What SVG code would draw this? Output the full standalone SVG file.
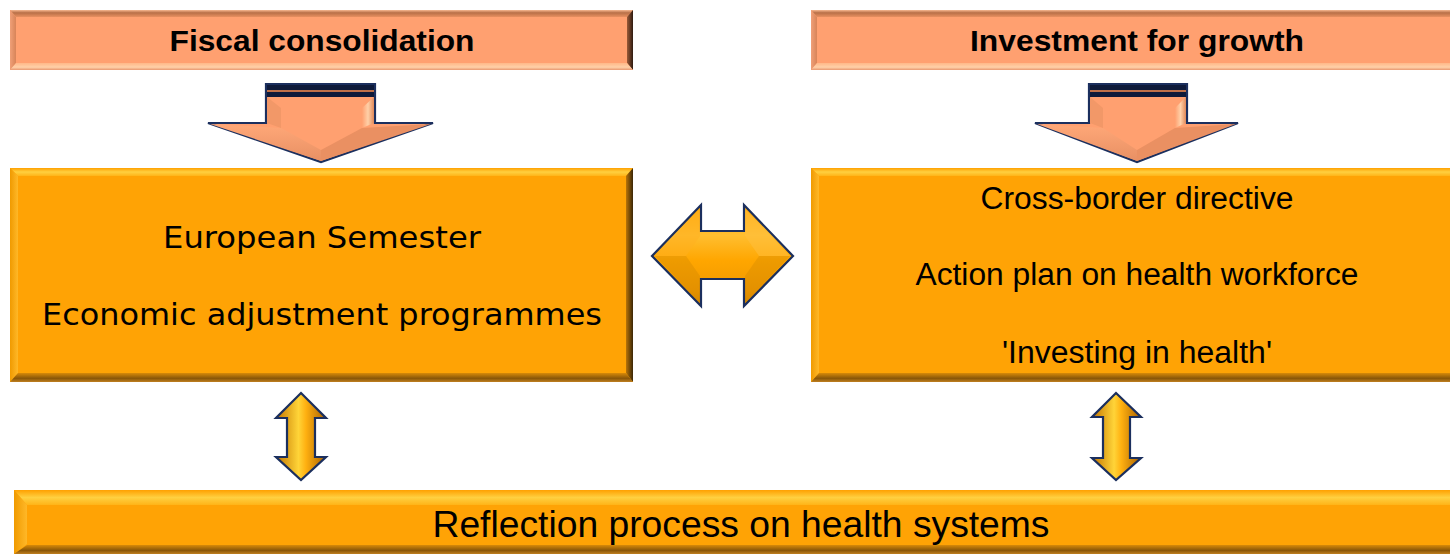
<svg xmlns="http://www.w3.org/2000/svg" width="1450" height="554" viewBox="0 0 1450 554">
<style>
.hdr{font-family:"Liberation Sans",Arial,sans-serif;font-weight:bold;font-size:30px;fill:#000;text-anchor:middle}
.vt{font-family:"DejaVu Sans",Verdana,sans-serif;font-size:31px;fill:#000;text-anchor:middle}
.ar{font-family:"Liberation Sans",Arial,sans-serif;font-size:31px;fill:#000;text-anchor:middle}
.big{font-family:"Liberation Sans",Arial,sans-serif;font-size:36px;fill:#000;text-anchor:middle}
.arrowline{stroke:#1B2F5E;stroke-width:2.2;stroke-linejoin:miter}
</style>
<defs>
<linearGradient id="sTop" x1="0" y1="0" x2="0" y2="1"><stop offset="0" stop-color="#F8B890"/><stop offset="0.4" stop-color="#B87048"/><stop offset="1" stop-color="#E89060"/></linearGradient>
<linearGradient id="sBot" x1="0" y1="0" x2="0" y2="1"><stop offset="0" stop-color="#FFB888"/><stop offset="0.6" stop-color="#FFD0A8"/><stop offset="1" stop-color="#E89870"/></linearGradient>
<linearGradient id="sLeft" x1="0" y1="0" x2="1" y2="0"><stop offset="0" stop-color="#F0A078"/><stop offset="1" stop-color="#D88458"/></linearGradient>
<linearGradient id="sRight" x1="0" y1="0" x2="1" y2="0"><stop offset="0" stop-color="#9A5A38"/><stop offset="1" stop-color="#2E1A10"/></linearGradient>
<linearGradient id="oTop" x1="0" y1="0" x2="0" y2="1"><stop offset="0" stop-color="#FFA000"/><stop offset="0.5" stop-color="#FFD040"/><stop offset="1" stop-color="#FFB418"/></linearGradient>
<linearGradient id="oBot" x1="0" y1="0" x2="0" y2="1"><stop offset="0" stop-color="#D88A08"/><stop offset="0.6" stop-color="#8A5608"/><stop offset="1" stop-color="#C08020"/></linearGradient>
<linearGradient id="oLeft" x1="0" y1="0" x2="1" y2="0"><stop offset="0" stop-color="#F09A00"/><stop offset="1" stop-color="#FFB828"/></linearGradient>
<linearGradient id="oRight" x1="0" y1="0" x2="1" y2="0"><stop offset="0" stop-color="#B87408"/><stop offset="1" stop-color="#3A2606"/></linearGradient>
<linearGradient id="vArrow" x1="0" y1="0" x2="1" y2="0"><stop offset="0" stop-color="#C27400"/><stop offset="0.45" stop-color="#FFD438"/><stop offset="0.6" stop-color="#FFB010"/><stop offset="1" stop-color="#A86000"/></linearGradient>
<linearGradient id="hArrow" x1="0" y1="0" x2="0" y2="1"><stop offset="0" stop-color="#FFA808"/><stop offset="0.3" stop-color="#FFBE30"/><stop offset="0.55" stop-color="#FFA600"/><stop offset="0.85" stop-color="#F09800"/><stop offset="1" stop-color="#D88800"/></linearGradient>
<linearGradient id="dHead" x1="0" y1="0" x2="0" y2="1"><stop offset="0" stop-color="#FFA878"/><stop offset="1" stop-color="#E89064"/></linearGradient>
<linearGradient id="dShaftR" x1="0" y1="0" x2="1" y2="0"><stop offset="0" stop-color="#FFA070"/><stop offset="0.5" stop-color="#FFD0A8"/><stop offset="1" stop-color="#E08858"/></linearGradient>
</defs>

<rect width="1450" height="554" fill="#FFFFFF"/>

<g id="header-fiscal">
<rect x="10" y="10" width="623" height="60" fill="#FFA070"/>
<polygon points="10,10 633,10 627,17 16,17" fill="url(#sTop)"/>
<polygon points="10,10 16,17 16,63 10,70" fill="url(#sLeft)"/>
<polygon points="633,10 633,70 627,63 627,17" fill="url(#sRight)"/>
<polygon points="10,70 633,70 627,63 16,63" fill="url(#sBot)"/>
<text class="hdr" x="322" y="51" textLength="305" lengthAdjust="spacingAndGlyphs">Fiscal consolidation</text>
</g>

<g id="header-investment">
<rect x="811" y="10" width="650" height="60" fill="#FFA070"/>
<polygon points="811,10 1461,10 1455,17 817,17" fill="url(#sTop)"/>
<polygon points="811,10 817,17 817,63 811,70" fill="url(#sLeft)"/>
<polygon points="811,70 1461,70 1455,63 817,63" fill="url(#sBot)"/>
<text class="hdr" x="1137" y="51" textLength="334" lengthAdjust="spacingAndGlyphs">Investment for growth</text>
</g>

<g id="box-fiscal">
<rect x="10" y="168" width="623" height="214" fill="#FFA305"/>
<polygon points="10,168 633,168 626,176 18,176" fill="url(#oTop)"/>
<polygon points="10,168 18,176 18,373 10,382" fill="url(#oLeft)"/>
<polygon points="633,168 633,382 626,373 626,176" fill="url(#oRight)"/>
<polygon points="10,382 633,382 626,373 18,373" fill="url(#oBot)"/>
<text class="vt" x="322" y="248" textLength="318" lengthAdjust="spacingAndGlyphs">European Semester</text>
<text class="vt" x="322" y="325" textLength="560" lengthAdjust="spacingAndGlyphs">Economic adjustment programmes</text>
</g>

<g id="box-investment">
<rect x="811" y="168" width="650" height="214" fill="#FFA305"/>
<polygon points="811,168 1461,168 1454,176 819,176" fill="url(#oTop)"/>
<polygon points="811,168 819,176 819,373 811,382" fill="url(#oLeft)"/>
<polygon points="811,382 1461,382 1454,373 819,373" fill="url(#oBot)"/>
<text class="ar" x="1137" y="209" textLength="313" lengthAdjust="spacingAndGlyphs">Cross-border directive</text>
<text class="ar" x="1137" y="285" textLength="443" lengthAdjust="spacingAndGlyphs">Action plan on health workforce</text>
<text class="ar" x="1137" y="363" textLength="270" lengthAdjust="spacingAndGlyphs">'Investing in health'</text>
</g>

<g id="box-reflection">
<rect x="14" y="490" width="1450" height="64" fill="#FFA305"/>
<polygon points="14,490 1464,490 1456,505 27,505" fill="url(#oTop)"/>
<polygon points="14,490 27,505 27,544 14,554" fill="url(#oLeft)"/>
<polygon points="14,554 1464,554 1456,545 27,545" fill="url(#oBot)"/>
<text class="big" x="741" y="537" textLength="617" lengthAdjust="spacingAndGlyphs">Reflection process on health systems</text>
</g>

<g id="connectors">
<g id="arrow-down-left">
<polygon points="266,84 375,84 375,123 433,123 321,162 208,123 266,123" fill="#FFA070" class="arrowline"/>
<rect x="267" y="85" width="107" height="12" fill="#0E1A3A"/>
<rect x="267" y="90" width="107" height="2" fill="#C07048"/>
<polygon points="267,97 281,108 281,128 267,123" fill="#F29868"/>
<polygon points="374,97 362,108 362,128 374,123" fill="url(#dShaftR)"/>
<polygon points="210,124 281,128 321,150 321,161" fill="url(#dHead)"/>
<polygon points="431,124 362,128 321,150 321,161" fill="#EA9062"/>
</g>
<g id="arrow-down-right">
<polygon points="1089,84 1187,84 1187,123 1238,123 1137,162 1035,123 1089,123" fill="#FFA070" class="arrowline"/>
<rect x="1090" y="85" width="96" height="12" fill="#0E1A3A"/>
<rect x="1090" y="90" width="96" height="2" fill="#C07048"/>
<polygon points="1090,97 1103,108 1103,128 1090,123" fill="#F29868"/>
<polygon points="1186,97 1175,108 1175,128 1186,123" fill="url(#dShaftR)"/>
<polygon points="1037,124 1103,128 1137,150 1137,161" fill="url(#dHead)"/>
<polygon points="1236,124 1175,128 1137,150 1137,161" fill="#EA9062"/>
</g>
<g id="arrow-horizontal">
<polygon points="652,256 701,205 701,231 744,231 744,205 793,256 744,306 744,279 701,279 701,306" fill="url(#hArrow)" class="arrowline"/>
<polygon points="655,256 700,209 700,236 686,256" fill="#FFB020" opacity="0.5"/>
<polygon points="790,256 745,209 745,236 759,256" fill="#FFC040" opacity="0.5"/>
<polygon points="655,256 686,256 700,276 700,303" fill="#C88000" opacity="0.3"/>
<polygon points="790,256 759,256 745,276 745,303" fill="#C88000" opacity="0.3"/>
</g>
<g id="arrow-vertical-left">
<polygon points="301,393 326,418 315,418 315,457 326,457 301,480 276,457 287,457 287,418 276,418" fill="url(#vArrow)" class="arrowline"/>
</g>
<g id="arrow-vertical-right">
<polygon points="1116,393 1141,417 1130,417 1130,458 1141,458 1116,480 1092,458 1103,458 1103,417 1092,417" fill="url(#vArrow)" class="arrowline"/>
</g>
</g>
</svg>
